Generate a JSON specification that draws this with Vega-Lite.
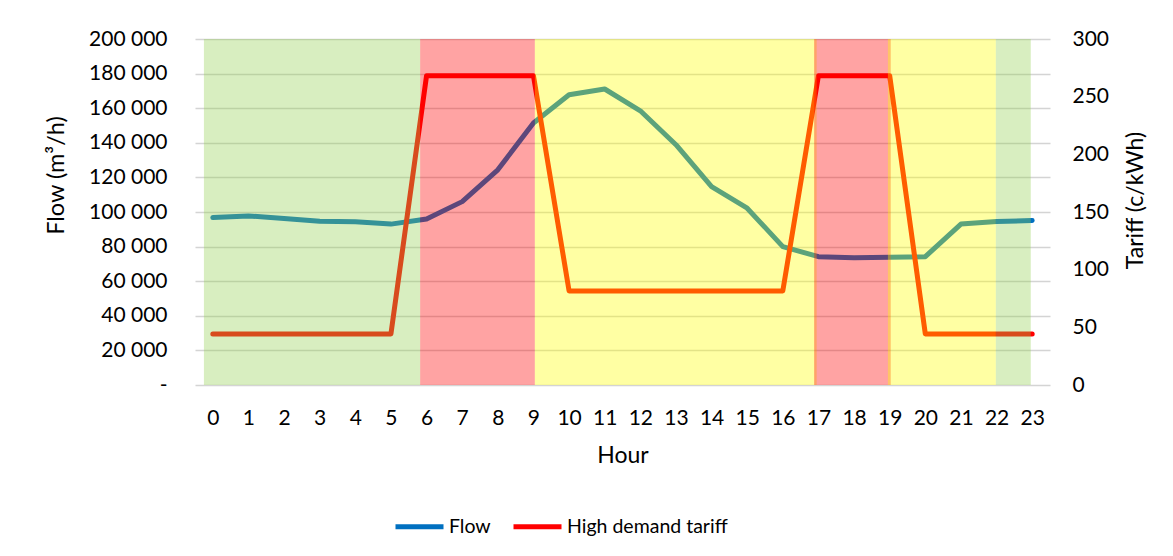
{
  "$schema": "https://vega.github.io/schema/vega-lite/v6.json",
  "width": 855,
  "height": 346,
  "autosize": {"type": "none"},
  "padding": {"left": 195, "top": 39, "right": 123, "bottom": 171},
  "background": "white",
  "config": {
    "view": {"stroke": null},
    "font": "Lato",
    "axis": {"labelColor": "#000000", "titleColor": "#000000", "titleFontWeight": "normal", "labelFont": "Lato", "titleFont": "Lato"},
    "axisX": {
      "values": [0,1,2,3,4,5,6,7,8,9,10,11,12,13,14,15,16,17,18,19,20,21,22,23],
      "format": "d", "grid": false, "ticks": false, "domain": false,
      "labelPadding": 22, "labelFontSize": 21, "labelFlush": false, "labelOverlap": false,
      "titleFontSize": 23, "titlePadding": 16
    },
    "legend": {"labelFont": "Lato"}
  },
  "datasets": {
    "series": [
      {"hour": 0, "series": "Flow", "value": 96800},
      {"hour": 1, "series": "Flow", "value": 97700},
      {"hour": 2, "series": "Flow", "value": 96300},
      {"hour": 3, "series": "Flow", "value": 94600},
      {"hour": 4, "series": "Flow", "value": 94300},
      {"hour": 5, "series": "Flow", "value": 93000},
      {"hour": 6, "series": "Flow", "value": 95900},
      {"hour": 7, "series": "Flow", "value": 106000},
      {"hour": 8, "series": "Flow", "value": 124400},
      {"hour": 9, "series": "Flow", "value": 151400},
      {"hour": 10, "series": "Flow", "value": 167800},
      {"hour": 11, "series": "Flow", "value": 171100},
      {"hour": 12, "series": "Flow", "value": 158500},
      {"hour": 13, "series": "Flow", "value": 138900},
      {"hour": 14, "series": "Flow", "value": 114700},
      {"hour": 15, "series": "Flow", "value": 102200},
      {"hour": 16, "series": "Flow", "value": 80000},
      {"hour": 17, "series": "Flow", "value": 74200},
      {"hour": 18, "series": "Flow", "value": 73500},
      {"hour": 19, "series": "Flow", "value": 73900},
      {"hour": 20, "series": "Flow", "value": 74200},
      {"hour": 21, "series": "Flow", "value": 93000},
      {"hour": 22, "series": "Flow", "value": 94500},
      {"hour": 23, "series": "Flow", "value": 95100},
      {"hour": 0, "series": "High demand tariff", "value": 44.3},
      {"hour": 1, "series": "High demand tariff", "value": 44.3},
      {"hour": 2, "series": "High demand tariff", "value": 44.3},
      {"hour": 3, "series": "High demand tariff", "value": 44.3},
      {"hour": 4, "series": "High demand tariff", "value": 44.3},
      {"hour": 5, "series": "High demand tariff", "value": 44.3},
      {"hour": 6, "series": "High demand tariff", "value": 268.2},
      {"hour": 7, "series": "High demand tariff", "value": 268.2},
      {"hour": 8, "series": "High demand tariff", "value": 268.2},
      {"hour": 9, "series": "High demand tariff", "value": 268.2},
      {"hour": 10, "series": "High demand tariff", "value": 81.6},
      {"hour": 11, "series": "High demand tariff", "value": 81.6},
      {"hour": 12, "series": "High demand tariff", "value": 81.6},
      {"hour": 13, "series": "High demand tariff", "value": 81.6},
      {"hour": 14, "series": "High demand tariff", "value": 81.6},
      {"hour": 15, "series": "High demand tariff", "value": 81.6},
      {"hour": 16, "series": "High demand tariff", "value": 81.6},
      {"hour": 17, "series": "High demand tariff", "value": 268.2},
      {"hour": 18, "series": "High demand tariff", "value": 268.2},
      {"hour": 19, "series": "High demand tariff", "value": 268.2},
      {"hour": 20, "series": "High demand tariff", "value": 44.3},
      {"hour": 21, "series": "High demand tariff", "value": 44.3},
      {"hour": 22, "series": "High demand tariff", "value": 44.3},
      {"hour": 23, "series": "High demand tariff", "value": 44.3}
    ],
    "bands": [
      {"start": -0.25, "end": 5.82, "period": "Off-peak"},
      {"start": 5.82, "end": 9.04, "period": "Peak"},
      {"start": 9.04, "end": 16.95, "period": "Standard"},
      {"start": 16.88, "end": 19.03, "period": "Peak"},
      {"start": 18.95, "end": 21.98, "period": "Standard"},
      {"start": 21.98, "end": 22.96, "period": "Off-peak"}
    ]
  },
  "layer": [
    {
      "data": {"name": "series"},
      "transform": [{"filter": "datum.series == 'Flow'"}],
      "mark": {"type": "line", "strokeWidth": 5, "strokeCap": "round", "strokeJoin": "round"},
      "encoding": {
        "x": {
          "field": "hour", "type": "quantitative",
          "scale": {"domain": [-0.5, 23.5], "nice": false, "zero": false},
          "axis": {"title": "Hour", "values": [0,1,2,3,4,5,6,7,8,9,10,11,12,13,14,15,16,17,18,19,20,21,22,23], "labelOverlap": false}
        },
        "y": {
          "field": "value", "type": "quantitative",
          "scale": {"domain": [0, 200000], "nice": false},
          "axis": {
            "orient": "left",
            "values": [0,20000,40000,60000,80000,100000,120000,140000,160000,180000,200000],
            "labelExpr": "datum.value == 0 ? '-' : replace(format(datum.value, ','), ',', ' ')",
            "grid": true, "gridColor": "#D4D4D4", "gridWidth": 1.6,
            "ticks": false, "domain": false,
            "labelPadding": 28, "labelFontSize": 21,
            "title": "Flow (m³/h)", "titleFontSize": 23.5, "titlePadding": 20, "titleY": 136
          }
        },
        "color": {
          "field": "series", "type": "nominal",
          "scale": {"domain": ["Flow", "High demand tariff"], "range": ["#0070C0", "#FF0000"]},
          "legend": {
            "orient": "none", "legendX": 198, "legendY": 461,
            "direction": "horizontal", "title": null,
            "symbolType": "stroke", "symbolSize": 2304, "symbolStrokeWidth": 5,
            "labelFontSize": 19.5, "labelOffset": 3, "columnPadding": 12, "labelLimit": 400, "labelColor": "#000000"
          }
        }
      }
    },
    {
      "data": {"name": "series"},
      "transform": [{"filter": "datum.series == 'High demand tariff'"}],
      "mark": {"type": "line", "strokeWidth": 5, "strokeCap": "round", "strokeJoin": "round"},
      "encoding": {
        "x": {
          "field": "hour", "type": "quantitative",
          "axis": {"title": "Hour", "values": [0,1,2,3,4,5,6,7,8,9,10,11,12,13,14,15,16,17,18,19,20,21,22,23], "labelOverlap": false}
        },
        "y": {
          "field": "value", "type": "quantitative",
          "scale": {"domain": [0, 300], "nice": false},
          "axis": {
            "orient": "right",
            "values": [0, 50, 100, 150, 200, 250, 300],
            "grid": false, "ticks": false, "domain": false,
            "labelPadding": 22, "labelFontSize": 21,
            "title": "Tariff (c/kWh)", "titleFontSize": 23, "titleAngle": 270, "titleBaseline": "top", "titlePadding": 16, "titleY": 161
          }
        },
        "color": {"field": "series", "type": "nominal"}
      }
    },
    {
      "data": {"name": "bands"},
      "mark": {"type": "rect", "opacity": 0.36},
      "encoding": {
        "x": {
          "field": "start", "type": "quantitative",
          "axis": {"title": "Hour", "values": [0,1,2,3,4,5,6,7,8,9,10,11,12,13,14,15,16,17,18,19,20,21,22,23], "labelOverlap": false}
        },
        "x2": {"field": "end"},
        "fill": {
          "field": "period", "type": "nominal",
          "scale": {"domain": ["Off-peak", "Peak", "Standard"], "range": ["#92D050", "#FF0000", "#FFFF00"]},
          "legend": null
        }
      }
    }
  ],
  "resolve": {"scale": {"y": "independent"}}
}
